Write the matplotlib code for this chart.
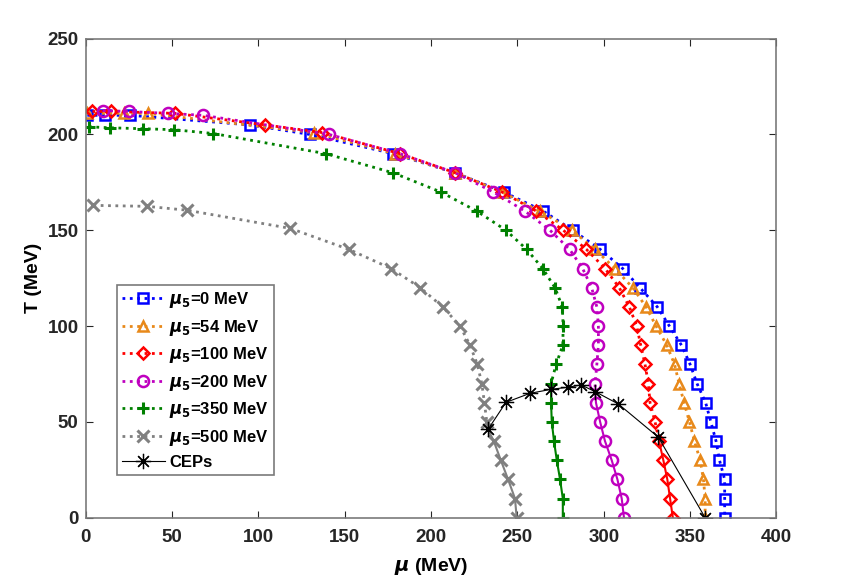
import numpy as np
import matplotlib.pyplot as plt

plt.rcParams['font.family'] = ['Liberation Sans', 'DejaVu Sans']
plt.rcParams['font.weight'] = 'bold'
plt.rcParams['mathtext.fontset'] = 'dejavusans'

# mu5 = 0 MeV
mu_0 = [1, 11, 26, 95, 130, 178, 214, 242, 265, 282, 298, 311, 321, 331, 338, 345, 350, 354, 359, 362, 365, 367, 370, 370, 370]
T_0 = [210, 210, 210, 205, 200, 190, 180, 170, 160, 150, 140, 130, 120, 110, 100, 90, 80, 70, 60, 50, 40, 30, 20, 10, 0]
# mu5 = 54 MeV
mu_54 = [1, 22, 36, 132, 179, 214, 241, 263, 281.5, 295, 306.5, 316.8, 324.5, 330.3, 336.5, 341, 343.6, 346.5, 349.6, 352.5, 355.8, 357.7, 358.7, 358.7]
T_54 = [211, 211, 211, 201, 190, 180, 170, 160, 150, 140, 130, 120, 110, 100, 90, 80, 70, 60, 50, 40, 30, 20, 10, 0]
# mu5 = 100 MeV
mu_100 = [4, 15, 52, 104, 137, 182, 214, 241, 261, 276.6, 290, 300.8, 309, 314.8, 319.1, 321.4, 323.9, 325.8, 326.8, 329.7, 332, 334.5, 336.8, 338.4, 340]
T_100 = [212, 212, 211, 205, 201, 190, 180, 170, 160, 150, 140, 130, 120, 110, 100, 90, 80, 70, 60, 50, 40, 30, 20, 10, 0]
# mu5 = 200 MeV
mu_200 = [10, 25, 48, 68, 141, 182, 214, 236, 254.4, 268.9, 280.3, 287.8, 293, 296, 296.9, 296.9, 296, 295, 295.5, 297.9, 300.7, 304.6, 307.9, 310.4, 311.7]
T_200 = [212.5, 212, 211, 210, 200, 190, 180, 170, 160, 150, 140, 130, 120, 110, 100, 90, 80, 70, 60, 50, 40, 30, 20, 10, 0]
# mu5 = 350 MeV
mu_350 = [2, 14, 33, 51, 74, 139, 178, 205.6, 226.5, 243.4, 255.4, 264.7, 271.8, 276, 276.5, 276.3, 272.4, 269.5, 269.5, 269.9, 271.2, 272.8, 274.7, 276.3, 276.3]
T_350 = [204, 203.5, 203, 202.5, 200.5, 190, 180, 170, 160, 150, 140, 130, 120, 110, 100, 90, 80, 70, 60, 50, 40, 30, 20, 10, 0]
# mu5 = 500 MeV
mu_500 = [4.5, 35.4, 58.5, 118.5, 152.5, 177, 193.8, 206.8, 216.8, 222.6, 226.8, 229.4, 230.9, 232.3, 236.3, 240.4, 244.6, 248.6, 249.6]
T_500 = [163, 162.5, 160.5, 151, 140, 130, 120, 110, 100, 90, 80, 70, 60, 50, 40, 30, 20, 10, 0]

# critical end points
mu_cep = [233, 243.4, 257.3, 269.5, 279.5, 286.8, 295, 308.5, 331.6, 358.7]
T_cep = [46.1, 60.2, 64.9, 67, 68.1, 69.3, 65.8, 59.3, 42, 0]

labels = [r'$\mu_5$=0 MeV', r'$\mu_5$=54 MeV', r'$\mu_5$=100 MeV',
          r'$\mu_5$=200 MeV', r'$\mu_5$=350 MeV', r'$\mu_5$=500 MeV']
series = [(mu_0, T_0, None), (mu_54, T_54, None), (mu_100, T_100, (331.6, 42)),
          (mu_200, T_200, (295, 65.8)), (mu_350, T_350, (269.5, 67)), (mu_500, T_500, (233, 46.1))]
colors = ['#0000ff', '#e8891a', '#ff0000', '#bf00bf', '#008000', '#808080']
markers = ['s', '^', 'D', 'o', 'P', 'X']
msizes = [6.5, 7.5, 6, 8, 8, 8]

fig = plt.figure(figsize=(8.44, 5.79), dpi=100)
ax = fig.add_axes([0.1014, 0.1059, 0.8186, 0.8273])

for (mu, T, cep), c, m, ms, lab in zip(series, colors, markers, msizes, labels):
    mu = np.array(mu, float)
    T = np.array(T, float)
    if m in ('P', 'X'):
        mk = dict(marker='+' if m == 'P' else 'x', markersize=ms + 1, markeredgewidth=2.2)
    else:
        mk = dict(marker=m, markersize=ms, markeredgewidth=1.8, markerfacecolor='none')
    if cep is None:
        ax.plot(mu, T, ':', color=c, lw=2, label=lab, **mk)
    else:
        # dotted above the CEP, solid below it
        up = T > cep[1]
        mu_u = np.append(mu[up], cep[0])
        T_u = np.append(T[up], cep[1])
        mu_d = np.insert(mu[~up], 0, cep[0])
        T_d = np.insert(T[~up], 0, cep[1])
        ax.plot(mu_u, T_u, ':', color=c, lw=2, label=lab,
                markevery=list(range(len(mu_u) - 1)), **mk)
        ax.plot(mu_d, T_d, '-', color=c, lw=1.5,
                markevery=list(range(1, len(mu_d))), **mk)

ax.plot(mu_cep, T_cep, '-', color='black', lw=0.8, marker=(8, 2, 0),
        markersize=11, markeredgewidth=0.9, label='CEPs')

ax.set_xlim(0, 400)
ax.set_ylim(0, 250)
ax.set_xticks(np.arange(0, 401, 50))
ax.set_yticks(np.arange(0, 251, 50))
ax.tick_params(direction='in', top=True, right=True, labelsize=13.5,
               colors='#262626', length=5)
ax.tick_params(axis='x', pad=8)
ax.tick_params(axis='y', pad=5)
for s in ax.spines.values():
    s.set_color('#7a7a7a')
    s.set_linewidth(1.2)
for t in ax.get_xticklabels() + ax.get_yticklabels():
    t.set_fontweight('bold')

ax.set_xlabel(r'$\mu$ (MeV)', fontsize=14, fontweight='bold', labelpad=7)
ax.set_ylabel('T (MeV)', fontsize=14, fontweight='bold', labelpad=4)

leg = ax.legend(loc='lower left', bbox_to_anchor=(0.045, 0.089), fontsize=12,
                handlelength=2.6, labelspacing=0.45, borderaxespad=0,
                fancybox=False, edgecolor='#7a7a7a', framealpha=1,
                handletextpad=0.25, borderpad=0.3)
leg.get_frame().set_linewidth(1.2)
for t in leg.get_texts():
    t.set_fontweight('bold')

fig.savefig('out.png', dpi=100)
